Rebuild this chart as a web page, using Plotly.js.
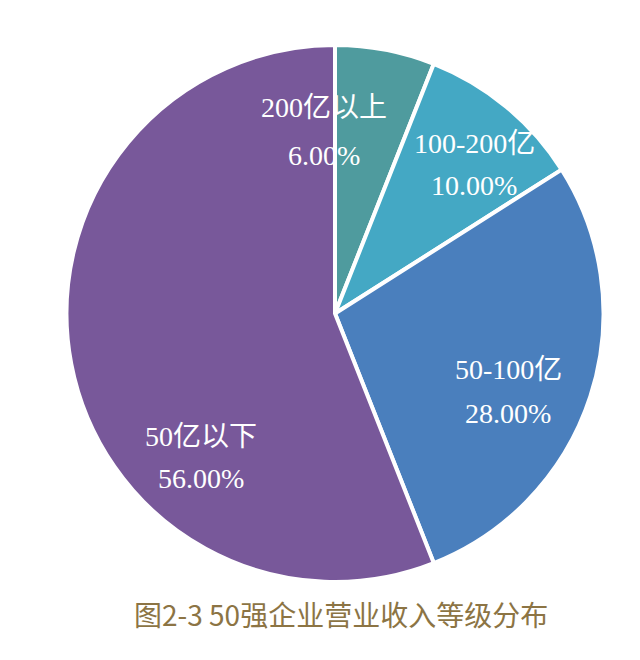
<!DOCTYPE html>
<html>
<head>
<meta charset="utf-8">
<script src="https://cdn.plot.ly/plotly-3.0.1.min.js"></script>
<style>html,body{margin:0;padding:0;background:#fff;}#chart{width:640px;height:660px;}</style>
</head>
<body>
<div id="chart"></div>
<script>
var categories = ['200亿以上', '100-200亿', '50-100亿', '50亿以下'];
var shares = [6, 10, 28, 56];
var sliceColors = ['#4f9b9e', '#44a8c4', '#4a7fbd', '#78589a'];
var chartTitle = '图2-3 50强企业营业收入等级分布';

// label anchor positions in pixels (layout only): [x, y of name line, y of percent line]
var labelPos = [[324, 108, 155], [474, 143, 186], [508, 370, 413], [201, 436, 478]];

var W = 640, H = 660;
var labelFont = {family: '"Liberation Serif", "Noto Sans CJK SC", serif', size: 28, color: '#ffffff'};
var annotations = [];
categories.forEach(function (c, i) {
  var p = labelPos[i];
  annotations.push({
    xref: 'paper', yref: 'paper', x: p[0] / W, y: 1 - p[1] / H,
    text: c, showarrow: false, font: labelFont,
    xanchor: 'center', yanchor: 'middle'
  });
  annotations.push({
    xref: 'paper', yref: 'paper', x: p[0] / W, y: 1 - p[2] / H,
    text: shares[i].toFixed(2) + '%', showarrow: false, font: labelFont,
    xanchor: 'center', yanchor: 'middle'
  });
});
annotations.push({
  xref: 'paper', yref: 'paper', x: 341 / W, y: 1 - 614 / H,
  text: chartTitle, showarrow: false,
  font: {family: '"Noto Sans CJK SC", sans-serif', size: 28, color: '#8c7444'},
  xanchor: 'center', yanchor: 'middle'
});

var trace = {
  type: 'pie',
  labels: categories,
  values: shares,
  sort: false,
  direction: 'clockwise',
  rotation: 0,
  textinfo: 'none',
  hoverinfo: 'none',
  marker: {colors: sliceColors, line: {color: '#ffffff', width: 4}},
  domain: {x: [65 / W, 605 / W], y: [1 - 582 / H, 1 - 45 / H]}
};

var layout = {
  width: W, height: H,
  margin: {l: 0, r: 0, t: 0, b: 0},
  showlegend: false,
  paper_bgcolor: '#ffffff',
  annotations: annotations
};

Plotly.newPlot('chart', [trace], layout, {displayModeBar: false, staticPlot: true});
</script>
</body>
</html>
